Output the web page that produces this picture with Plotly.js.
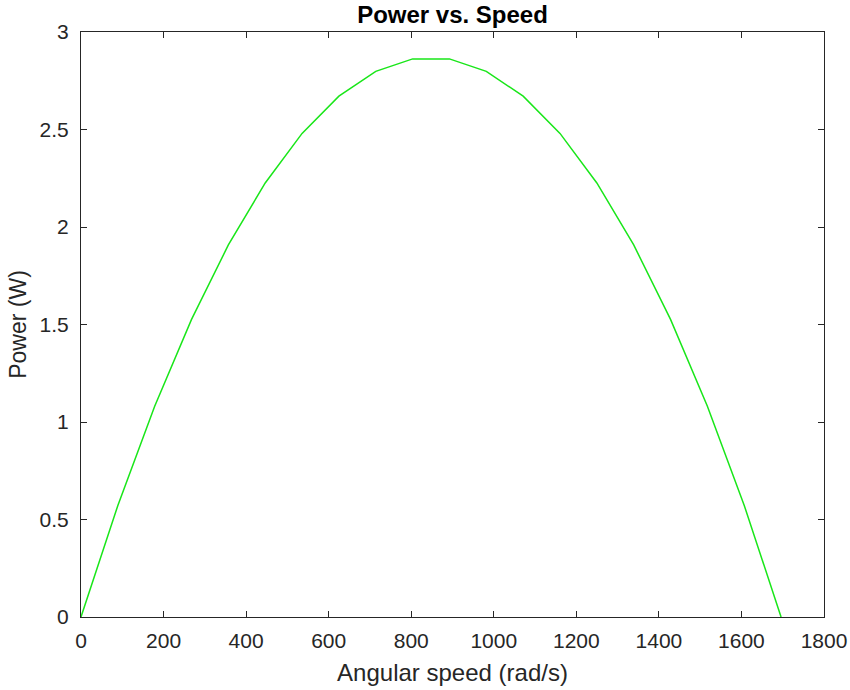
<!DOCTYPE html>
<html>
<head>
<meta charset="utf-8">
<script src="https://cdn.plot.ly/plotly-3.0.1.min.js"></script>
<style>html,body{margin:0;padding:0;background:#fff;}#chart{width:850px;height:690px;}</style>
</head>
<body>
<div id="chart"></div>
<script>
// Angular speed (rad/s) sample points
const speed = [0, 89.3, 178.5, 267.8, 357, 446.3, 535.6, 624.8, 714.1, 803.4,
               892.6, 981.9, 1071.2, 1160.4, 1249.7, 1339, 1428.2, 1517.5, 1606.8, 1696];
// Power (W)
const power = [0, 0.572, 1.081, 1.526, 1.908, 2.226, 2.480, 2.671, 2.798, 2.862,
               2.862, 2.798, 2.671, 2.480, 2.226, 1.908, 1.526, 1.081, 0.572, 0];
const xTicks = [0, 200, 400, 600, 800, 1000, 1200, 1400, 1600, 1800];
const yTicks = [0, 0.5, 1, 1.5, 2, 2.5, 3];

const axisColor = '#262626';
const fontFam = 'Liberation Sans, Arial, Helvetica, sans-serif';

const trace = {
  x: speed, y: power, type: 'scatter', mode: 'lines',
  line: {color: '#19e619', width: 1.5},
  hoverinfo: 'skip'
};

const layout = {
  width: 850, height: 690,
  margin: {l: 81, r: 26, t: 32, b: 73},
  paper_bgcolor: '#ffffff', plot_bgcolor: '#ffffff',
  showlegend: false,
  font: {family: fontFam, color: axisColor, size: 21},
  title: {
    text: '<b>Power vs. Speed</b>',
    font: {family: fontFam, size: 24, color: '#000000'},
    x: 0.5, xanchor: 'center', xref: 'paper',
    y: 1, yref: 'paper', yanchor: 'bottom', pad: {b: 9}
  },
  xaxis: {
    range: [0, 1800], tickvals: xTicks, ticktext: xTicks.map(String),
    showgrid: false, zeroline: false,
    showline: true, linecolor: axisColor, linewidth: 1, mirror: 'ticks',
    ticks: 'inside', ticklen: 6, tickcolor: axisColor, tickwidth: 1,
    tickfont: {family: fontFam, size: 21, color: axisColor},
    ticklabelstandoff: 5,
    title: {text: 'Angular speed (rad/s)', font: {family: fontFam, size: 24, color: axisColor}, standoff: 12},
    automargin: false
  },
  yaxis: {
    range: [0, 3], tickvals: yTicks, ticktext: yTicks.map(String),
    showgrid: false, zeroline: false,
    showline: true, linecolor: axisColor, linewidth: 1, mirror: 'ticks',
    ticks: 'inside', ticklen: 6, tickcolor: axisColor, tickwidth: 1,
    tickfont: {family: fontFam, size: 21, color: axisColor},
    ticklabelstandoff: 7,
    title: {text: 'Power (W)', font: {family: fontFam, size: 23, color: axisColor}, standoff: 6},
    automargin: false
  }
};

Plotly.newPlot('chart', [trace], layout, {displayModeBar: false, staticPlot: true});
</script>
</body>
</html>
